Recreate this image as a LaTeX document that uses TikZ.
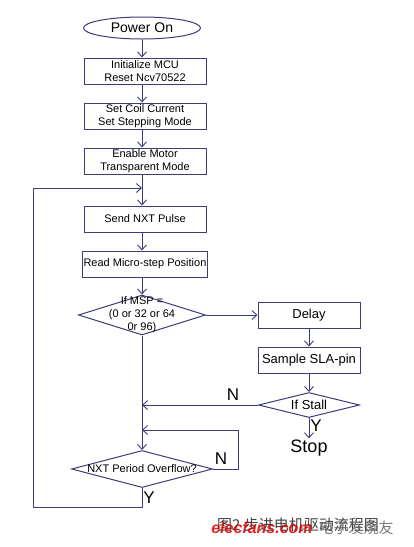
\documentclass[tikz,border=0pt]{standalone}
\usepackage{fontspec}
\setmainfont{Liberation Sans}
\newfontfamily\cjk{Noto Sans CJK SC}
\usetikzlibrary{shapes.geometric,arrows.meta}
\definecolor{flowline}{RGB}{60,60,120}
\tikzset{
  stepbox/.style={draw=flowline,line width=1pt,minimum width=122pt,minimum height=26pt,inner sep=1pt,align=center,font=\fontsize{11}{13}\selectfont},
  sidebox/.style={stepbox,minimum width=102pt,font=\fontsize{13}{15}\selectfont},
  dia/.style={draw=flowline,line width=1pt,diamond,inner sep=0pt},
  ell/.style={draw=flowline,line width=1pt,ellipse,minimum width=117pt,minimum height=22pt,inner sep=0pt,font=\fontsize{14}{16}\selectfont},
  lab/.style={inner sep=0pt,font=\fontsize{17}{17}\selectfont}
}
\begin{document}
\begin{tikzpicture}[x=1pt,y=-1pt,line width=1pt,color=flowline,>={Straight Barb[length=5pt,width=9pt,line width=0.9pt]},every node/.style={text=black}]
  \useasboundingbox (0,0) rectangle (413,547);

  \node[ell](power)at(142,28){Power On};
  \node[stepbox](init)at(145,71){Initialize MCU\\Reset Ncv70522};
  \node[stepbox](coil)at(145,116){Set Coil Current\\Set Stepping Mode};
  \node[stepbox](motor)at(145,161){Enable Motor\\Transparent Mode};
  \node[stepbox](pulse)at(145,219){Send NXT Pulse};
  \node[stepbox](read)at(145,264){Read Micro-step Position};
  \node[dia,minimum width=127pt,minimum height=40pt](msp)at(142,315){};
  \node[align=center,inner sep=0pt,font=\fontsize{11}{13}\selectfont](msptext)at(msp){If MSP =\\(0 or 32 or 64\\0r 96)};
  \node[sidebox](delay)at(309,315){Delay};
  \node[sidebox](sample)at(309,360){Sample SLA-pin};
  \node[dia,minimum width=101pt,minimum height=25pt](stall)at(309,405){};
  \node[inner sep=0pt,font=\fontsize{13}{15}\selectfont](stalltext)at(stall){If Stall};
  \node[inner sep=1pt,font=\fontsize{18}{20}\selectfont](stop)at(309,448){Stop};
  \node[dia,minimum width=141pt,minimum height=37pt](ovf)at(142,469){};
  \node[inner sep=0pt,font=\fontsize{11}{13}\selectfont](ovftext)at(ovf){NXT Period Overflow?};

  \coordinate(loopin)at(142,188);
  \coordinate(upleft)at(33,188);
  \coordinate(lowleft)at(33,507);
  \coordinate(join)at(142,405);
  \coordinate(back)at(142,430);
  \coordinate(ovfright)at(238,430);

  \draw[->] (power) to (power |- init.north);
  \draw[->] (init.south -| power) to (coil.north -| power);
  \draw[->] (coil.south -| power) to (motor.north -| power);
  \draw[->] (motor.south -| power) to (pulse.north -| power);
  \draw[->] (pulse.south -| power) to (read.north -| power);
  \draw[->] (read.south -| power) to (msp.north);
  \draw[->] (msp.east) to (delay.west);
  \draw[->] (delay) to (sample);
  \draw[->] (sample) to (stall.north);
  \draw[->] (stall.south) to (stop.north);
  \draw[->] (stall.west) to (join);
  \draw[->] (msp.south) to (ovf.north);
  \draw[->] (ovf.east) -| (ovfright) -- (back);
  \draw[->] (ovf.south) |- (lowleft) -- (upleft) -- (loopin);

  \node[lab](nstall)at(233,395){N};
  \node[lab](ystall)at(316,426){Y};
  \node[lab](novf)at(221,459){N};
  \node[lab](yovf)at(149,498){Y};

  \node[inner sep=0pt,text=black!75,font=\cjk\fontsize{15}{15}\selectfont](caption)at(298,525){图2 步进电机驱动流程图};
  \node[inner sep=0pt,text=red!85!black,opacity=0.85,font=\bfseries\itshape\fontsize{16}{16}\selectfont](mark)at(262,528){elecfans.com};
  \node[inner sep=0pt,text=black!60,opacity=0.85,font=\cjk\fontsize{15}{15}\selectfont](markcn)at(356,528){电子发烧友};
\end{tikzpicture}
\end{document}
